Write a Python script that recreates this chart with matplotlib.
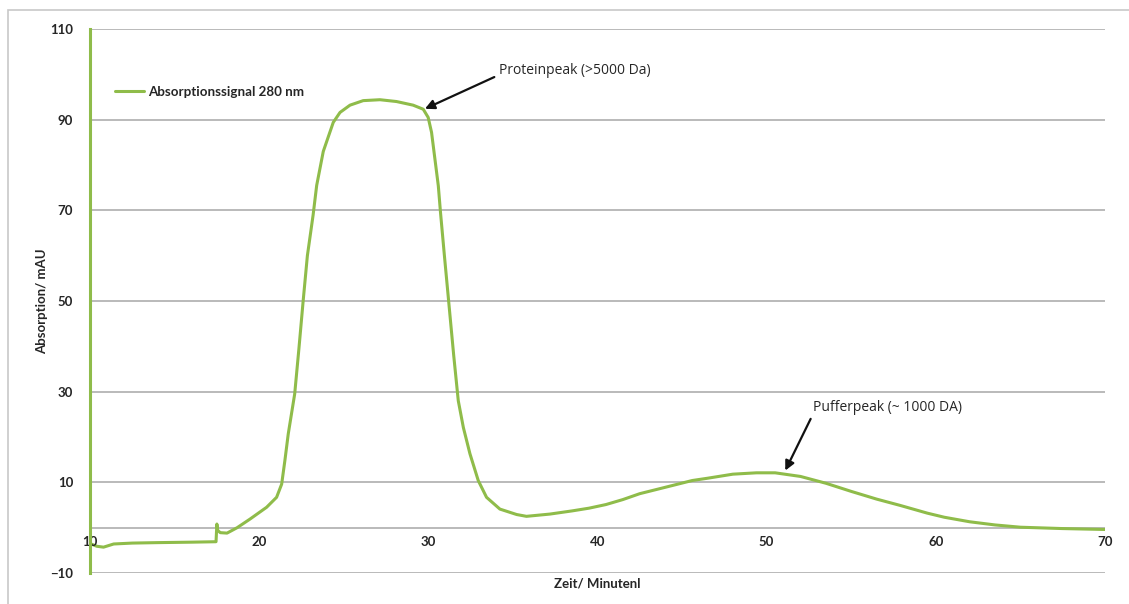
import matplotlib
matplotlib.use("Agg")

import numpy as np
import matplotlib.pyplot as plt
from matplotlib.patches import Rectangle

# -------------------------------
# Chromatogram values (time in min, absorbance in mAU)
# -------------------------------
zeit = [10.0, 10.4, 10.8, 11.4, 12.5, 14.0, 16.0, 17.45, 17.5, 17.55, 17.7, 18.1,
        18.7, 19.46, 20.44, 21.03, 21.33, 21.52, 21.72, 22.1, 22.35,
        22.6, 22.85, 23.19, 23.4, 23.79, 24.38, 24.78, 25.37, 26.15, 27.14,
        28.12, 29.1, 29.7, 29.99, 30.19, 30.39, 30.59, 30.72, 30.95, 31.2,
        31.5, 31.77, 32.07, 32.46, 32.95, 33.44, 34.23, 35.22, 35.8, 37.19,
        38.5, 39.5, 40.5, 41.5, 42.5, 44.0, 45.6, 46.5, 48.0, 49.4, 50.5,
        52.0, 53.5, 55.0, 56.5, 57.9, 59.5, 60.5, 62.0, 63.5, 65.0, 67.5, 70.0]
signal = [-3.5, -4.1, -4.3, -3.6, -3.4, -3.3, -3.2, -3.1, 0.8, -0.6, -1.1, -1.2,
          0.0, 1.9, 4.5, 6.7, 9.6, 14.8, 20.7, 29.5, 39.5,
          50.0, 60.0, 69.0, 75.5, 83.0, 89.4, 91.6, 93.2, 94.2, 94.4,
          94.0, 93.2, 92.3, 90.5, 87.2, 81.3, 75.4, 69.5, 60.0, 50.0,
          38.0, 28.0, 22.1, 16.3, 10.4, 6.7, 4.1, 2.9, 2.5, 3.0,
          3.7, 4.3, 5.1, 6.2, 7.5, 8.9, 10.4, 10.9, 11.8, 12.1, 12.1,
          11.3, 9.8, 8.0, 6.3, 4.9, 3.2, 2.3, 1.3, 0.6, 0.1, -0.2, -0.4]

x_ticks = [10, 20, 30, 40, 50, 60, 70]
y_ticks = [-10, 10, 30, 50, 70, 90, 110]

# annotation text anchors, arrow tails and arrow heads (data units)
protein_text = (34.2, 100.8)
protein_tail = (33.9, 99.4)
protein_head = (29.8, 92.4)
puffer_text = (52.75, 26.5)
puffer_tail = (52.6, 24.0)
puffer_head = (51.1, 12.6)

green = "#8fbc4a"
grid_grey = "#b4b4b4"
text_col = "#262626"

# -------------------------------
# Plot
# -------------------------------
fig = plt.figure(figsize=(11.29, 6.04), dpi=100)
ax = fig.add_axes([90 / 1129, 31 / 604, 1015 / 1129, 544 / 604])

ax.plot(zeit, signal, color=green, lw=2.2, label="Absorptionssignal 280 nm",
        solid_capstyle="round", solid_joinstyle="round", zorder=3)

ax.set_xlim(10, 70)
ax.set_ylim(-10, 110)
ax.set_xticks(x_ticks)
ax.set_yticks(y_ticks)

# horizontal grid plus the zero line that carries the x tick labels
ax.grid(axis="y", color=grid_grey, lw=1.3)
ax.axhline(0, color=grid_grey, lw=1.3, zorder=1)

for side in ["top", "right", "bottom"]:
    ax.spines[side].set_visible(False)
ax.spines["left"].set_color(green)
ax.spines["left"].set_linewidth(2.2)
ax.spines["left"].set_zorder(3)

ax.tick_params(axis="both", length=0, labelsize=9.5, labelcolor=text_col)
ax.tick_params(axis="y", pad=12)
for lbl in ax.get_yticklabels():
    lbl.set_fontfamily("Lato")
    lbl.set_fontweight("bold")

# x labels sit just under the zero line
for t, lbl in zip(x_ticks, ax.get_xticklabels()):
    lbl.set_visible(False)
    ax.text(t, -1.9, str(t), ha="center", va="top", fontsize=9.5,
            fontfamily="Lato", fontweight="bold", color=text_col)

ax.set_xlabel("Zeit/ Minutenl", fontsize=9.5, fontfamily="Lato",
              fontweight="bold", color=text_col)
ax.xaxis.set_label_coords(0.5, -0.008)
ax.set_ylabel("Absorption/ mAU", fontsize=9.5, fontfamily="Lato",
              fontweight="bold", color=text_col)
ax.yaxis.set_label_coords(-0.041, 0.5)

leg = ax.legend(loc="center left", bbox_to_anchor=(0.0246, 0.884),
                frameon=False, borderpad=0, borderaxespad=0,
                handlelength=2.2, handletextpad=0.25,
                prop={"family": "Lato", "weight": "bold", "size": 9.6})
for t in leg.get_texts():
    t.set_color(text_col)

arrow = dict(arrowstyle="-|>", color="#111111", lw=1.6, shrinkA=0, shrinkB=0,
             mutation_scale=14)
ax.text(*protein_text, "Proteinpeak (>5000 Da)", fontsize=10,
        fontfamily="Open Sans", color=text_col, va="center")
ax.annotate("", xy=protein_head, xytext=protein_tail, arrowprops=arrow)
ax.text(*puffer_text, "Pufferpeak (~ 1000 DA)", fontsize=10,
        fontfamily="Open Sans", color=text_col, va="center")
ax.annotate("", xy=puffer_head, xytext=puffer_tail, arrowprops=arrow)

# light frame around the chart area
fig.add_artist(Rectangle((8 / 1129, -0.1), 1.2, 1.1 - 10 / 604,
                         transform=fig.transFigure, fill=False,
                         edgecolor="#c8c8c8", lw=1.2))

fig.savefig("out.png", dpi=100)
